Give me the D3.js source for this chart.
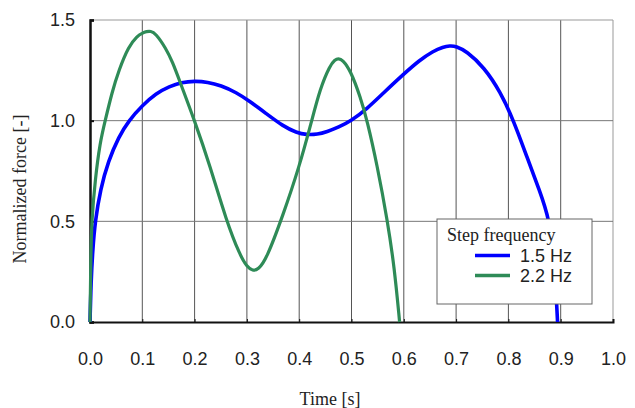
<!DOCTYPE html>
<html><head><meta charset="utf-8">
<script src="https://cdn.jsdelivr.net/npm/d3@7"></script>
<style>html,body{margin:0;padding:0;background:#fff;}svg{display:block;}</style>
</head><body>
<svg id="chart" width="635" height="408"></svg>
<script>
// Data (time in s, normalized force)
const seriesNames = ["1.5 Hz", "2.2 Hz"];
const seriesColors = ["#0000ff", "#2e8b57"];
const t15 = [0, 0.002, 0.005, 0.0097, 0.02, 0.035, 0.055, 0.074, 0.1, 0.126, 0.152, 0.175, 0.2, 0.225, 0.25, 0.28, 0.305, 0.337, 0.369, 0.395, 0.414, 0.435, 0.453, 0.475, 0.5, 0.53, 0.56, 0.6, 0.63, 0.656, 0.675, 0.688, 0.7, 0.72, 0.753, 0.785, 0.81, 0.836, 0.86, 0.878, 0.888, 0.892, 0.894];
const f15 = [0, 0.2, 0.35, 0.5, 0.66, 0.8, 0.92, 1.0, 1.075, 1.135, 1.17, 1.19, 1.197, 1.192, 1.175, 1.14, 1.097, 1.035, 0.973, 0.94, 0.93, 0.932, 0.945, 0.967, 1.0, 1.06, 1.135, 1.232, 1.3, 1.345, 1.366, 1.372, 1.37, 1.345, 1.267, 1.142, 1.0, 0.815, 0.65, 0.515, 0.3, 0.1, 0];
const t22 = [0, 0.0015, 0.003, 0.01, 0.019, 0.029, 0.042, 0.055, 0.074, 0.09, 0.1, 0.108, 0.116, 0.125, 0.145, 0.158, 0.171, 0.2, 0.229, 0.261, 0.287, 0.3, 0.311, 0.322, 0.337, 0.369, 0.4, 0.423, 0.44, 0.459, 0.468, 0.475, 0.483, 0.498, 0.517, 0.53, 0.549, 0.569, 0.582, 0.592];
const f22 = [0, 0.3, 0.5, 0.71, 0.89, 1.0, 1.14, 1.25, 1.37, 1.42, 1.435, 1.443, 1.445, 1.435, 1.36, 1.29, 1.2, 1.0, 0.78, 0.5, 0.33, 0.275, 0.253, 0.262, 0.31, 0.53, 0.77, 0.99, 1.16, 1.275, 1.302, 1.31, 1.302, 1.25, 1.117, 1.0, 0.78, 0.5, 0.27, 0];
const xTicks = [0, 0.1, 0.2, 0.3, 0.4, 0.5, 0.6, 0.7, 0.8, 0.9, 1.0];
const yTicks = [0, 0.5, 1.0, 1.5];
const xTitle = "Time [s]";
const yTitle = "Normalized force [-]";
const legendTitle = "Step frequency";

const svg = d3.select("#chart");
const m = {left: 90, right: 613, top: 20, bottom: 322};
const x = d3.scaleLinear().domain([0, 1]).range([m.left, m.right]);
const y = d3.scaleLinear().domain([0, 1.5]).range([m.bottom, m.top]);
const sans = "'Liberation Sans', Arial, sans-serif";
const serif = "'Liberation Serif', 'Times New Roman', serif";

// grid
const g = svg.append("g");
g.selectAll("line.vg").data(xTicks.slice(1)).join("line")
  .attr("x1", d => x(d)).attr("x2", d => x(d)).attr("y1", m.top).attr("y2", m.bottom)
  .attr("stroke", d => d === 1 ? "#999" : "#555").attr("stroke-width", 1);
g.selectAll("line.hg").data(yTicks.slice(1)).join("line")
  .attr("x1", m.left).attr("x2", m.right).attr("y1", d => y(d)).attr("y2", d => y(d))
  .attr("stroke", d => d === 1.5 ? "#999" : "#777").attr("stroke-width", 1);

// axes
const xAxis = d3.axisBottom(x).tickValues(xTicks).tickSize(-3).tickFormat(d3.format(".1f")).tickPadding(30);
const xa = svg.append("g").attr("transform", `translate(0,${m.bottom})`).call(xAxis);
xa.select(".domain").attr("stroke", "#111").attr("stroke-width", 2);
xa.selectAll(".tick line").attr("stroke", "#111");
xa.selectAll("text").attr("font-family", sans).attr("font-size", 18).attr("fill", "#222");

const yAxis = d3.axisLeft(y).tickValues(yTicks).tickSize(-4).tickFormat(d3.format(".1f")).tickPadding(15);
const ya = svg.append("g").attr("transform", `translate(${m.left},0)`).call(yAxis);
ya.select(".domain").attr("stroke", "#111").attr("stroke-width", 2.5);
ya.selectAll(".tick line").attr("stroke", "#111").attr("stroke-width", 2);
ya.selectAll("text").attr("font-family", sans).attr("font-size", 18).attr("fill", "#222");

// lines
const line = d3.line().x(d => x(d[0])).y(d => y(d[1])).curve(d3.curveBasis);
const data15 = t15.map((t, i) => [t, f15[i]]);
const data22 = t22.map((t, i) => [t, f22[i]]);
svg.append("path").datum(data15).attr("d", line).attr("fill", "none")
  .attr("stroke", seriesColors[0]).attr("stroke-width", 3.6).attr("stroke-linejoin", "round");
svg.append("path").datum(data22).attr("d", line).attr("fill", "none")
  .attr("stroke", seriesColors[1]).attr("stroke-width", 3.2).attr("stroke-linejoin", "round");

// titles
svg.append("text").attr("x", 330).attr("y", 405).attr("text-anchor", "middle")
  .attr("font-family", serif).attr("font-size", 18).attr("fill", "#222").text(xTitle);
svg.append("text").attr("transform", "translate(26,189) rotate(-90)").attr("text-anchor", "middle")
  .attr("font-family", serif).attr("font-size", 18).attr("fill", "#222").text(yTitle);

// legend
const lg = svg.append("g");
lg.append("rect").attr("x", 437).attr("y", 219).attr("width", 155).attr("height", 85)
  .attr("fill", "#fff").attr("stroke", "#666").attr("stroke-width", 1);
lg.append("text").attr("x", 447).attr("y", 241).attr("font-family", serif).attr("font-size", 18)
  .attr("fill", "#222").text(legendTitle);
const ly = [255.5, 275.5];
seriesNames.forEach((n, i) => {
  lg.append("line").attr("x1", 475).attr("x2", 510).attr("y1", ly[i]).attr("y2", ly[i])
    .attr("stroke", seriesColors[i]).attr("stroke-width", 3.5);
  lg.append("text").attr("x", 520).attr("y", ly[i]).attr("dy", "0.36em")
    .attr("font-family", sans).attr("font-size", 18).attr("fill", "#222").text(n);
});
</script>
</body></html>
